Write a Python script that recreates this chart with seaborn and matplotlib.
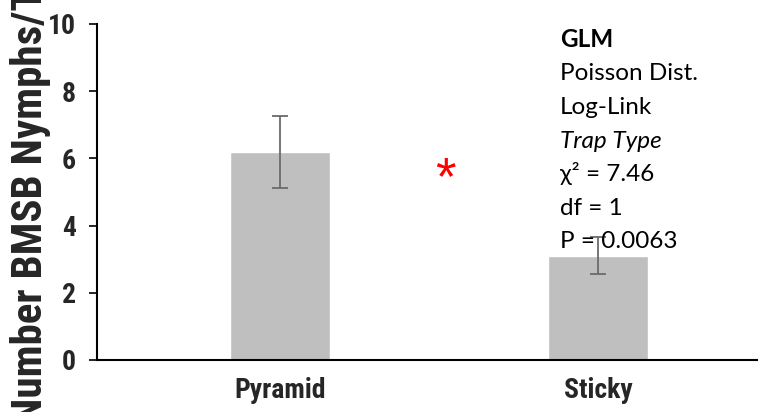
import matplotlib
matplotlib.use("Agg")
import matplotlib.pyplot as plt
import seaborn as sns
import pandas as pd

categories = ["Pyramid", "Sticky"]
means = [6.2, 3.1]
errors = [1.07, 0.55]
yticks = [0, 2, 4, 6, 8, 10]
stats_lines = ["GLM", "Poisson Dist.", "Log-Link", "Trap Type", "χ² = 7.46", "df = 1", "P = 0.0063"]
ylabel_text = "Number BMSB Nymphs/Trap"

sns.set_theme(style="white")
narrow = ["Roboto Condensed", "Liberation Sans Narrow", "Liberation Sans", "DejaVu Sans"]
plt.rcParams["font.family"] = narrow

W, H = 759, 412
fig = plt.figure(figsize=(W / 100, H / 100), dpi=100)
ax = fig.add_axes([97 / W, 1 - 360 / H, (757 - 97) / W, (360 - 24) / H])

df = pd.DataFrame({"trap": categories, "count": means})
sns.barplot(data=df, x="trap", y="count", color="#bfbfbf", saturation=1,
            width=0.314, errorbar=None, ax=ax)
ax.errorbar(range(len(categories)), means, yerr=errors, fmt="none",
            ecolor="#6b6b6b", elinewidth=1.3, capsize=6, capthick=1.3)

ax.set_xlim(-0.575, 1.5)
ax.set_ylim(0, 10)
ax.set_yticks(yticks)
ax.set_yticklabels([str(t) for t in yticks], fontsize=20, fontweight="bold")
ax.set_xticks(range(len(categories)))
ax.set_xticklabels(categories, fontsize=20, fontweight="bold")
ax.tick_params(axis="y", length=6, width=1.2, color="black", pad=9, left=True)
ax.tick_params(axis="x", length=0, pad=12)

for s in ["top", "right"]:
    ax.spines[s].set_visible(False)
for s in ["left", "bottom"]:
    ax.spines[s].set_color("black")
    ax.spines[s].set_linewidth(1.5)

ax.set_xlabel("")

# fit the (clipped) y label: "umber BMSB Nymphs/" spans ~373 px in the reference,
# starting at ~398 px from the top
renderer = fig.canvas.get_renderer()
base = 30
t = fig.text(0, 0, ylabel_text[1:18], fontsize=base, fontweight="bold")
w_span = t.get_window_extent(renderer).width
t.remove()
fs = base * 373 / w_span
t = fig.text(0, 0, ylabel_text[0], fontsize=fs, fontweight="bold")
w_n = t.get_window_extent(renderer).width
t.remove()

ax.set_ylabel(ylabel_text, fontsize=fs, fontweight="bold")
lab = ax.yaxis.label
lab.set_ha("left")
lab.set_va("baseline")
lab.set_rotation_mode("anchor")
start_px = 398 + w_n
ax.yaxis.set_label_coords((42 - 97) / 660, (360 - start_px) / 336)

# significance asterisk
ax.text(0.52, 5.36, "*", color="#ff0000", fontsize=38, ha="center", va="center",
        family=["Liberation Sans", "DejaVu Sans"])

# stats text block
stat_font = ["Lato", "DejaVu Sans"]
for i, line in enumerate(stats_lines):
    y_px = 47 + i * 33.5
    kw = {}
    if i == 0:
        kw["fontweight"] = "bold"
    if i == 3:
        kw["fontstyle"] = "italic"
    fig.text(560 / W, 1 - y_px / H, line, fontsize=17.5, family=stat_font,
             ha="left", va="baseline", color="black", **kw)

fig.savefig("out.png", dpi=100)
